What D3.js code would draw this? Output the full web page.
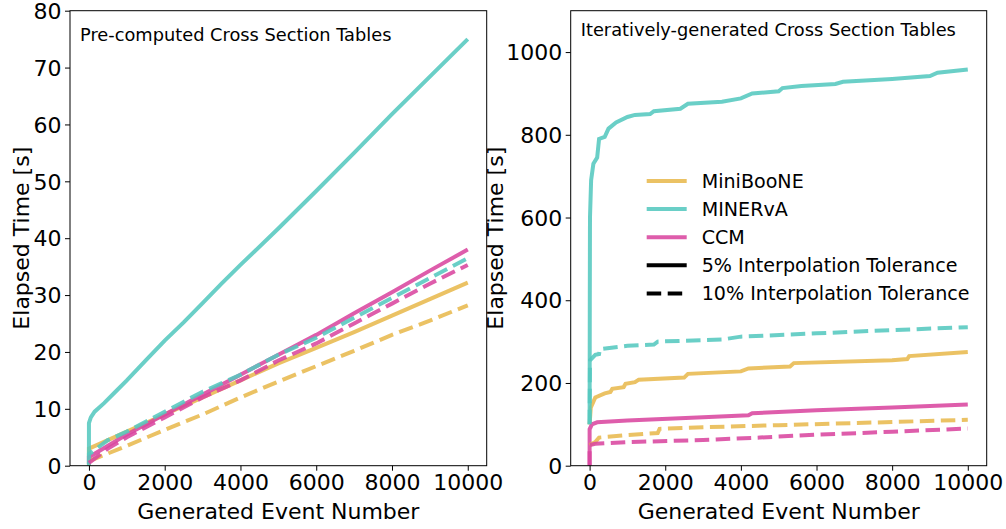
<!DOCTYPE html>
<html>
<head>
<meta charset="utf-8">
<script src="https://cdn.jsdelivr.net/npm/d3@7"></script>
<style>
  body { margin: 0; background: #fff; }
  svg text { font-family: "DejaVu Sans", sans-serif; fill: #000; }
</style>
</head>
<body>
<svg id="chart"></svg>
<script>
const width = 1006;
const height = 529;
const top_ = 10.7;
const bottom = 465.7;

// experiments / tolerances
const experiments = ["MiniBooNE", "MINERvA", "CCM"];
const colors = { MiniBooNE: "#e8ba4f", MINERvA: "#55c8bf", CCM: "#d9479f" };
const tolerances = ["5% Interpolation Tolerance", "10% Interpolation Tolerance"];
const xTicks = [0, 2000, 4000, 6000, 8000, 10000];
const leftYTicks = [0, 10, 20, 30, 40, 50, 60, 70, 80];
const rightYTicks = [0, 200, 400, 600, 800, 1000];

// pre-computed tables, [event, seconds]
const preMiniBooNE5 = [[0,0],[0,3],[500,4.5],[1000,6],[2000,9],[3000,12],[4000,15],[5000,18],[6000,20.7],[7000,23.5],[8000,26.4],[9000,29.3],[10000,32.2]];
const preMINERvA5 = [[0,0],[0,7.5],[50,8.5],[150,9.5],[400,11],[700,13],[1000,15],[1500,18.5],[2000,22],[2500,25.2],[3000,28.6],[3500,32],[4000,35.3],[5000,41.7],[6000,48.3],[7000,55],[8000,61.8],[9000,68.4],[10000,75]];
const preCCM5 = [[0,0.3],[0,1.5],[500,3.5],[1000,5.5],[2000,9],[3000,12.5],[4000,16],[5000,19.5],[6000,23],[7000,26.8],[8000,30.5],[9000,34.3],[10000,38]];
const preMiniBooNE10 = [[0,0.8],[1000,3.5],[2000,6.3],[3000,9],[4000,12],[5000,14.8],[6000,17.5],[7000,20.2],[8000,23],[9000,25.5],[10000,28.2]];
const preMINERvA10 = [[0,0.3],[0,2],[500,4.5],[1000,6],[2000,9.5],[3000,13],[4000,16],[5000,19.5],[6000,22.5],[7000,26],[8000,29.5],[9000,33],[10000,36.5]];
const preCCM10 = [[0,0.5],[500,3],[1000,5],[2000,8.5],[3000,12],[4000,15],[5000,18.5],[6000,21.5],[7000,25],[8000,28.5],[9000,32],[10000,35.3]];

// iteratively-generated tables, [event, seconds]
const itMiniBooNE5 = [[0,100],[30,140],[150,165],[400,175],[550,178],[600,186],[900,190],[950,198],[1200,202],[1300,208],[2500,213],[2600,222],[4000,228],[4200,235],[5300,240],[5400,248],[8000,255],[8400,258],[8450,265],[10000,275]];
const itMINERvA5 = [[0,100],[5,400],[10,600],[40,690],[100,730],[200,745],[250,790],[400,795],[500,815],[700,830],[1000,843],[1200,848],[1600,850],[1700,857],[2400,863],[2600,875],[3500,880],[4000,888],[4300,900],[5000,905],[5100,913],[5600,918],[6500,923],[6700,928],[8000,935],[9000,942],[9200,950],[10000,958]];
const itCCM5 = [[0,0],[0,88],[60,100],[200,105],[1000,109],[3000,117],[4200,122],[4300,127],[6000,134],[8000,141],[10000,148]];
const itMiniBooNE10 = [[0,50],[150,57],[250,68],[1000,74],[1800,79],[1850,89],[3000,93],[5000,98],[7000,103],[10000,111]];
const itMINERvA10 = [[0,100],[10,255],[150,268],[250,270],[270,282],[1000,290],[1700,293],[1800,300],[3500,305],[4000,312],[6000,320],[7500,326],[10000,335]];
const itCCM10 = [[0,0],[0,50],[150,53],[1000,57],[3000,62],[4500,68],[6000,75],[8000,82],[10000,90]];

const svg = d3.select("#chart").attr("width", width).attr("height", height);

function panel(opts) {
  const x = d3.scaleLinear().domain([-500, 10500]).range([opts.left, opts.right]);
  const y = d3.scaleLinear().domain(opts.yDomain).range([bottom, top_]);
  const g = svg.append("g");

  const line = d3.line().x(d => x(d[0])).y(d => y(d[1]));

  const series = [
    { data: opts.data[0], exp: "MiniBooNE", dash: false },
    { data: opts.data[1], exp: "MINERvA", dash: false },
    { data: opts.data[2], exp: "CCM", dash: false },
    { data: opts.data[3], exp: "MiniBooNE", dash: true },
    { data: opts.data[4], exp: "MINERvA", dash: true },
    { data: opts.data[5], exp: "CCM", dash: true },
  ];

  const clipId = "clip" + Math.round(opts.left);
  svg.append("clipPath").attr("id", clipId)
    .append("rect").attr("x", opts.left).attr("y", top_)
    .attr("width", opts.right - opts.left).attr("height", bottom - top_);

  g.append("g").attr("clip-path", `url(#${clipId})`)
    .selectAll("path")
    .data(series)
    .enter()
    .append("path")
    .attr("d", d => line(d.data))
    .attr("fill", "none")
    .attr("stroke", d => colors[d.exp])
    .attr("stroke-opacity", 0.88)
    .attr("stroke-width", 4)
    .attr("stroke-dasharray", d => d.dash ? "14.5,6.5" : null);

  // axes
  const xAxis = d3.axisBottom(x).tickValues(xTicks).tickSize(5).tickPadding(3.5).tickFormat(d3.format("d"));
  const yAxis = d3.axisLeft(y).tickValues(opts.yTicks).tickSize(5).tickPadding(3.5).tickFormat(d3.format("d"));

  g.append("g").attr("transform", `translate(0,${bottom})`).call(xAxis)
    .call(a => a.select(".domain").remove())
    .selectAll("text").attr("font-size", 22).attr("font-family", "DejaVu Sans");
  g.append("g").attr("transform", `translate(${opts.left},0)`).call(yAxis)
    .call(a => a.select(".domain").remove())
    .selectAll("text").attr("font-size", 22).attr("font-family", "DejaVu Sans").attr("dy", "0.35em");

  g.append("rect")
    .attr("x", opts.left).attr("y", top_)
    .attr("width", opts.right - opts.left).attr("height", bottom - top_)
    .attr("fill", "none").attr("stroke", "#000").attr("stroke-width", 1);

  g.append("text")
    .attr("x", opts.left + 10).attr("y", opts.titleY)
    .attr("font-size", 17.8)
    .text(opts.title);

  g.append("text")
    .attr("x", (opts.left + opts.right) / 2).attr("y", 519)
    .attr("text-anchor", "middle")
    .attr("font-size", 22)
    .text("Generated Event Number");

  g.append("text")
    .attr("transform", `translate(${opts.labelX},${(top_ + bottom) / 2}) rotate(-90)`)
    .attr("text-anchor", "middle")
    .attr("font-size", 22)
    .text("Elapsed Time [s]");

  return g;
}

panel({
  left: 70, right: 486.7, yDomain: [0, 80], yTicks: leftYTicks,
  title: "Pre-computed Cross Section Tables", titleY: 40.5, labelX: 28.5,
  data: [preMiniBooNE5, preMINERvA5, preCCM5, preMiniBooNE10, preMINERvA10, preCCM10],
});

const right = panel({
  left: 570.7, right: 986.7, yDomain: [0, 1100], yTicks: rightYTicks,
  title: "Iteratively-generated Cross Section Tables", titleY: 36, labelX: 503,
  data: [itMiniBooNE5, itMINERvA5, itCCM5, itMiniBooNE10, itMINERvA10, itCCM10],
});

// legend
const legendItems = [
  ...experiments.map(e => ({ label: e, color: colors[e], dash: false })),
  { label: tolerances[0], color: "#000", dash: false },
  { label: tolerances[1], color: "#000", dash: true },
];
const legend = right.append("g").attr("transform", "translate(646.7,181)");
const rows = legend.selectAll("g").data(legendItems).enter().append("g")
  .attr("transform", (d, i) => `translate(0,${i * 28.1})`);
rows.append("line")
  .attr("x1", 0).attr("x2", 40).attr("y1", 0).attr("y2", 0)
  .attr("stroke", d => d.color)
  .attr("stroke-opacity", d => d.color === "#000" ? 1 : 0.88)
  .attr("stroke-width", 4)
  .attr("stroke-dasharray", d => d.dash ? "14.5,6.5" : null);
rows.append("text")
  .attr("x", 55).attr("y", 0).attr("dy", "0.35em")
  .attr("font-size", 19.1)
  .text(d => d.label);
</script>
</body>
</html>
